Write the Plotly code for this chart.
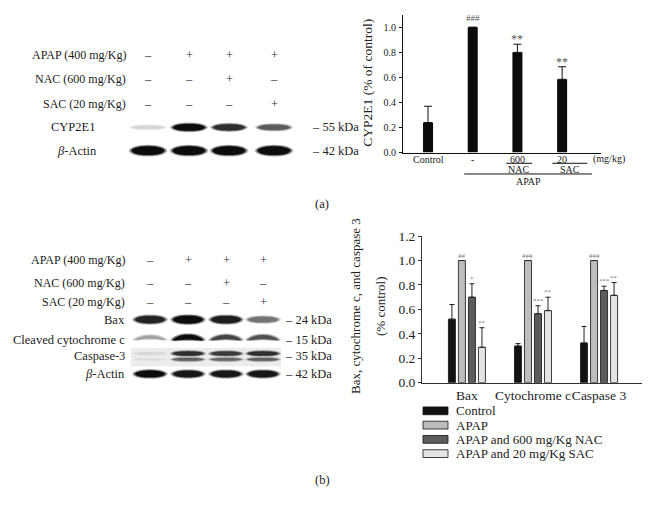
import plotly.graph_objects as go

W, H = 650, 513
SERIF = "Liberation Serif, Times New Roman, serif"

# ----------------------------- data -----------------------------
# treatment table (shared by both blots)
treat_labels = ["APAP (400 mg/Kg)", "NAC (600 mg/Kg)", "SAC (20 mg/Kg)"]
apap_given = [0, 1, 1, 1]
nac_given = [0, 0, 1, 0]
sac_given = [0, 0, 0, 1]

# panel (a) blot: relative band intensities per lane
blot_a_labels = ["CYP2E1", "<i>β</i>-Actin"]
blot_a_kda = ["55 kDa", "42 kDa"]
cyp2e1_band = [0.12, 1.0, 0.85, 0.65]
actin_a_band = [1.0, 1.0, 1.0, 1.0]

# panel (a) bar chart
cyp_ticks = ["Control", "-", "600", "20"]
cyp_mean = [0.24, 1.00, 0.80, 0.585]
cyp_err = [0.13, 0.0, 0.065, 0.10]
cyp_sig = ["", "###", "**", "**"]

# panel (b) blot
blot_b_labels = ["Bax", "Cleaved cytochrome c", "Caspase-3", "<i>β</i>-Actin"]
blot_b_kda = ["24 kDa", "15 kDa", "35 kDa", "42 kDa"]
bax_band = [0.9, 1.0, 0.92, 0.55]
cytc_band = [0.35, 1.0, 0.75, 0.7]
casp3_band = [0.12, 0.85, 0.8, 0.85]
actin_b_band = [1.0, 0.95, 0.95, 0.95]

# panel (b) bar chart
proteins = ["Bax", "Cytochrome c", "Caspase 3"]
series_names = ["Control", "APAP", "APAP and 600 mg/Kg NAC", "APAP and 20 mg/Kg SAC"]
control_vals = [0.52, 0.30, 0.325]
control_err = [0.12, 0.02, 0.135]
apap_vals = [1.0, 1.0, 1.0]
apap_err = [0.0, 0.0, 0.0]
nac_vals = [0.70, 0.565, 0.755]
nac_err = [0.11, 0.065, 0.035]
sac_vals = [0.29, 0.59, 0.715]
sac_err = [0.16, 0.11, 0.105]
control_sig = ["", "", ""]
apap_sig = ["##", "###", "###"]
nac_sig = ["*", "***", "***"]
sac_sig = ["**", "**", "**"]

# ----------------------------- helpers -----------------------------
def PX(x):
    return x / W

def PY(y):
    return 1 - y / H

shapes = []
annotations = []

def text(x, y, s, size=12, xanchor="center", color="#222", angle=0):
    annotations.append(dict(x=PX(x), y=PY(y), xref="paper", yref="paper", text=s,
                            showarrow=False, xanchor=xanchor, yanchor="middle",
                            textangle=angle, borderpad=0,
                            font=dict(family=SERIF, size=size, color=color)))

def gray(intensity, base=240, span=228):
    g = int(round(base - span * intensity))
    g = max(0, min(255, g))
    return f"rgb({g},{g},{g})"

def band(cx, cy, w, h, color, arc=0.0, n=30):
    top, bot = [], []
    for i in range(n + 1):
        t = -1 + 2 * i / n
        half = h / 2 * max(0.0, 1 - abs(t) ** 2.4) ** 0.6
        x = cx + t * w / 2
        yoff = -arc * (1 - t * t)
        top.append((x, cy + yoff - half))
        bot.append((x, cy + yoff + half))
    pts = top + bot[::-1]
    path = "M " + " L ".join(f"{PX(x):.5f},{PY(y):.5f}" for x, y in pts) + " Z"
    shapes.append(dict(type="path", path=path, xref="paper", yref="paper",
                       fillcolor=color, line=dict(width=0), layer="above"))

def draw_band_row(lanes, cy, intens, w, hmax, arc=0.0):
    for cx, v in zip(lanes, intens):
        h = hmax * (0.35 + 0.65 * v)
        band(cx, cy, w + 6, h + 3, gray(v * 0.25), arc)
        band(cx, cy, w + 3, h + 1.5, gray(v * 0.6), arc)
        band(cx, cy, w, h, gray(v), arc)

def sign_rows(lanes, rows_y, x_label):
    for lab, given, y in zip(treat_labels, [apap_given, nac_given, sac_given], rows_y):
        text(x_label, y, lab, 12, "right")
        for cx, g in zip(lanes, given):
            text(cx, y, "+" if g else "–", 12.5, "center", "#333")

# ----------------------------- panel (a) blot -----------------------------
lanes_a = [148, 189, 229, 274]
sign_rows(lanes_a, [49, 74, 100], 127)
rows_a = [124, 148]
text(73, rows_a[0], blot_a_labels[0], 12.5)
text(77, rows_a[1], blot_a_labels[1], 12.5)
draw_band_row(lanes_a, rows_a[0], cyp2e1_band, 32, 7)
draw_band_row(lanes_a, rows_a[1], actin_a_band, 33, 9)
for y, k in zip(rows_a, blot_a_kda):
    text(311, y, "– " + k, 12.5, "left")
text(322, 203, "(a)", 12.5)

# ----------------------------- panel (b) blot -----------------------------
lanes_b = [150, 188, 226, 263]
sign_rows(lanes_b, [261, 284, 304], 126)
rows_b = [322, 343, 360, 378]
for y, lab in zip(rows_b, blot_b_labels):
    text(126, y, lab, 12.5, "right")
for y, k in zip(rows_b, blot_b_kda):
    text(284, y, "– " + k, 12.5, "left")
# caspase-3 smear background
shapes.append(dict(type="rect", xref="paper", yref="paper", x0=PX(131), x1=PX(281),
                   y0=PY(351), y1=PY(370), fillcolor="#ececec", line=dict(width=0), layer="above"))
draw_band_row(lanes_b, rows_b[0], bax_band, 30, 8)
draw_band_row(lanes_b, rows_b[1], cytc_band, 30, 5, arc=3)
draw_band_row(lanes_b, rows_b[2] - 3, casp3_band, 31, 5)
draw_band_row(lanes_b, rows_b[2] + 3, [v * 0.75 for v in casp3_band], 31, 4)
draw_band_row(lanes_b, rows_b[3], actin_b_band, 30, 7)
text(322, 487, "(b)", 12.5)

# ----------------------------- panel (a) chart -----------------------------
fig = go.Figure()
xs_a = list(range(len(cyp_mean)))
fig.add_trace(go.Bar(
    x=xs_a, y=cyp_mean, width=0.224, xaxis="x", yaxis="y",
    marker=dict(color="#0b0b0b", line=dict(width=0)),
    error_y=dict(type="data", symmetric=False, array=cyp_err, arrayminus=[0] * 4,
                 color="#111", thickness=1, width=4),
    showlegend=False, hoverinfo="skip"))
for i, (m, e, s) in enumerate(zip(cyp_mean, cyp_err, cyp_sig)):
    if s:
        big = s.startswith("*")
        annotations.append(dict(x=i, y=m + e, xref="x", yref="y", text=s, showarrow=False,
                                yanchor="bottom", yshift=-3 if big else 3, borderpad=0,
                                font=dict(family=SERIF, size=12 if big else 9, color="#555")))
# x category labels
def ax_a(v):  # bar index -> pixel
    return 403 + (v + 0.56) / 4.43 * 198
for i, t in enumerate(cyp_ticks):
    text(ax_a(i), 157, t, 10, "center", "#222")
text(ax_a(2) + 1, 167, "NAC", 10)
text(ax_a(3) + 8, 167, "SAC", 10)
text(609, 157, "(mg/kg)", 10)
text(ax_a(2.24), 180, "APAP", 10)
for x0, x1, y in [(1.75, 2.33, 161), (2.78, 3.56, 161), (0.81, 3.67, 172)]:
    shapes.append(dict(type="line", xref="paper", yref="paper", x0=PX(ax_a(x0)), x1=PX(ax_a(x1)),
                       y0=PY(y), y1=PY(y), line=dict(color="#111", width=1)))
text(368, 78, "CYP2E1 (% of control)", 13.5, angle=-90)

# ----------------------------- panel (b) chart -----------------------------
vals = [control_vals, apap_vals, nac_vals, sac_vals]
errs = [control_err, apap_err, nac_err, sac_err]
sigs = [control_sig, apap_sig, nac_sig, sac_sig]
colors = ["#121212", "#bdbdbd", "#5c5c5c", "#e4e4e4"]
step, bw = 0.1515, 0.106
for i, (name, v, e, s, c) in enumerate(zip(series_names, vals, errs, sigs, colors)):
    off = (i - 1.5) * step
    fig.add_trace(go.Bar(
        x=list(range(len(proteins))), y=v, width=bw, offset=off - bw / 2, name=name,
        xaxis="x2", yaxis="y2",
        marker=dict(color=c, line=dict(color="#111", width=0.8)),
        error_y=dict(type="data", symmetric=False, array=e, arrayminus=[0] * len(e),
                     color="#222", thickness=1, width=2.5),
        showlegend=False, hoverinfo="skip"))
    for j, (vv, ee, ss) in enumerate(zip(v, e, s)):
        if ss:
            annotations.append(dict(x=j + off, y=vv + ee, xref="x2", yref="y2", text=ss,
                                    showarrow=False, yanchor="bottom", yshift=0, borderpad=0,
                                    font=dict(family=SERIF, size=7, color="#777")))
text(356, 308, "Bax, cytochrome c, and caspase 3", 13, angle=-90)
text(381, 308, "(% control)", 13, angle=-90)

# custom legend
for i, (name, c) in enumerate(zip(series_names, colors)):
    y = 416 + 14.7 * i
    shapes.append(dict(type="rect", xref="paper", yref="paper", x0=PX(423), x1=PX(448),
                       y0=PY(y - 4), y1=PY(y + 4), fillcolor=c, line=dict(color="#111", width=0.8)))
    text(455, y, name, 13, "left")

fig.update_layout(
    width=W, height=H, margin=dict(l=0, r=0, t=0, b=0),
    paper_bgcolor="white", plot_bgcolor="white", showlegend=False,
    font=dict(family=SERIF, color="#222"),
    xaxis=dict(domain=[403 / W, 601 / W], range=[-0.56, 3.87], anchor="y",
               showticklabels=False, showline=True, linecolor="#111", linewidth=1,
               showgrid=False, zeroline=False, ticks=""),
    yaxis=dict(domain=[1 - 150 / H, 1 - 8 / H], range=[0, 1.1], anchor="x",
               tickvals=[0, 0.2, 0.4, 0.6, 0.8, 1.0], tickformat=".1f",
               tickfont=dict(family=SERIF, size=10, color="#222"),
               showline=True, linecolor="#111", linewidth=1, showgrid=False,
               zeroline=False, ticks="outside", ticklen=3, tickcolor="#111",
               ticklabelstandoff=1),
    xaxis2=dict(domain=[422 / W, 642 / W], range=[-0.68, 2.65], anchor="y2",
                tickvals=list(range(len(proteins))), ticktext=proteins, tickangle=0,
                tickfont=dict(family=SERIF, size=13.5, color="#222"),
                showline=True, linecolor="#333", linewidth=1, showgrid=False,
                zeroline=False, ticks=""),
    yaxis2=dict(domain=[1 - 387 / H, 1 - 236 / H], range=[0, 1.2], anchor="x2",
                tickvals=[0, 0.2, 0.4, 0.6, 0.8, 1.0, 1.2], tickformat=".1f",
                tickfont=dict(family=SERIF, size=13.5, color="#222"),
                showline=True, linecolor="#333", linewidth=1, showgrid=False,
                zeroline=False, ticks="outside", ticklen=3, tickcolor="#333"),
    shapes=shapes, annotations=annotations,
)

fig.write_html("out.html", config={"displayModeBar": False},
               post_script="document.body.style.margin='0';document.body.style.overflow='hidden';")
